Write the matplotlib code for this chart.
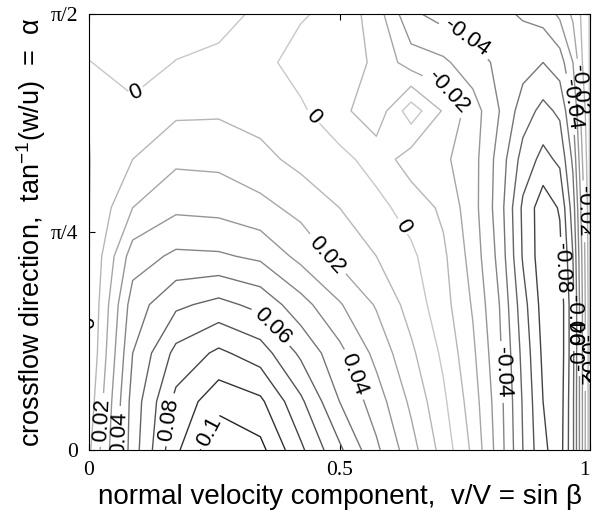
import numpy as np
import matplotlib
matplotlib.use('Agg')
import matplotlib.pyplot as plt

plt.rcParams['mathtext.fontset'] = 'custom'
plt.rcParams['mathtext.rm'] = 'Liberation Sans'
plt.rcParams['mathtext.it'] = 'Liberation Sans:italic'

# grid: beta every 5 deg (x = sin beta), alpha every 10 deg (rows 0..90)
beta_deg = np.arange(0, 91, 5)
alpha_deg = np.arange(0, 91, 10)

# one column of values per beta (alpha = 0, 10, ..., 90)
z_b00 = [0.008, 0.004, 0.0005, -0.0003, -0.0003, -0.0003, -0.0003, 0.0003, 0.0003, -0.005]
z_b05 = [0.055, 0.054, 0.050, 0.045, 0.035, 0.020, 0.010, 0.002, -0.004, -0.006]
z_b10 = [0.088, 0.083, 0.073, 0.058, 0.042, 0.028, 0.018, 0.008, 0.0003, -0.005]
z_b15 = [0.109, 0.0965, 0.082, 0.063, 0.0414, 0.027, 0.0174, 0.0085, 0.0024, -0.0036]
z_b20 = [0.103, 0.092, 0.075, 0.057, 0.038, 0.023, 0.013, 0.006, 0.003, 0.002]
z_b25 = [0.082, 0.072, 0.058, 0.044, 0.027, 0.017, 0.007, 0.0016, -0.004, 0.001]
z_b30 = [0.062, 0.050, 0.043, 0.031, 0.017, 0.010, 0.003, -0.007, -0.004, -0.003]
z_b35 = [0.042, 0.035, 0.027, 0.019, 0.010, 0.003, -0.004, -0.0166, -0.012, -0.015]
z_b40 = [0.024, 0.018, 0.012, 0.006, 0.002, -0.004, -0.015, 0.0056, -0.025, -0.038]
z_b45 = [0.006, 0.002, -0.002, -0.006, -0.008, -0.012, -0.018, -0.011, -0.028, -0.044]
z_b50 = [-0.012, -0.015, -0.018, -0.021, -0.024, -0.026, -0.026, -0.025, -0.036, -0.045]
z_b55 = [-0.035, -0.036, -0.038, -0.040, -0.043, -0.045, -0.044, -0.040, -0.042, -0.042]
z_b60 = [-0.060, -0.061, -0.063, -0.066, -0.071, -0.072, -0.064, -0.055, -0.046, -0.039]
z_b65 = [-0.078, -0.080, -0.082, -0.084, -0.086, -0.086, -0.073, -0.063, -0.050, -0.036]
z_b70 = [-0.085, -0.086, -0.087, -0.087, -0.083, -0.079, -0.068, -0.058, -0.045, -0.028]
z_b75 = [-0.062, -0.062, -0.063, -0.063, -0.060, -0.055, -0.048, -0.040, -0.030, -0.018]
z_b80 = [-0.030, -0.030, -0.030, -0.030, -0.028, -0.025, -0.020, -0.015, -0.010, -0.008]
z_b85 = [-0.010, -0.010, -0.010, -0.010, -0.009, -0.008, -0.006, -0.005, -0.004, -0.003]
z_b90 = [0.003, 0.003, 0.003, 0.003, 0.003, 0.003, 0.003, 0.003, 0.003, 0.003]

Z = np.array([z_b00, z_b05, z_b10, z_b15, z_b20, z_b25, z_b30, z_b35, z_b40, z_b45,
              z_b50, z_b55, z_b60, z_b65, z_b70, z_b75, z_b80, z_b85, z_b90]).T
x = np.sin(np.radians(beta_deg))
y = np.radians(alpha_deg)

levels = np.round(np.arange(-0.09, 0.1001, 0.01), 2) + 0.0

# labels: (level, x, y)
label_levels = [0, 0, -0.04, -0.02, 0, 0.02, 0.06, 0.04, -0.04, 0, 0.02, 0.04, 0.08, 0.1,
                -0.08, -0.06, -0.04, -0.02, 0, -0.04, -0.02, -0.02]
label_x = [0.094, 0.447, 0.754, 0.73, 0.647, 0.467, 0.351, 0.515, 0.824, 0.003, 0.032, 0.076, 0.166, 0.242,
           0.936, 0.964, 0.976, 0.986, 0.994, 0.975, 0.99, 0.988]
label_y = [1.286, 1.20, 1.488, 1.308, 0.829, 0.692, 0.425, 0.263, 0.281, 0.458, 0.108, 0.061, 0.108, 0.065,
           0.656, 0.468, 0.378, 0.324, 0.27, 1.25, 1.30, 0.86]

fig = plt.figure(figsize=(5.92, 5.18), dpi=100)
ax = fig.add_axes([89/592, 1-450/518, 501/592, 436/518])

cols = [str(np.clip(0.78 - 6.5*abs(l), 0, 1)) for l in levels]
cs = ax.contour(x, y, Z, levels=levels, colors=cols, linewidths=1.0)

ax.set_xlim(0, 1)
ax.set_ylim(0, np.pi/2)

cs.clabel(manual=[], fontsize=16, colors='k', fmt=lambda v: f'{v + 0.0:g}')
all_idx = list(range(len(levels)))
_orig_w = cs._get_nth_label_width
_cur = {'i': 0}
cs._get_nth_label_width = lambda nth: _orig_w(_cur['i'])
for lv, lx, ly in zip(label_levels, label_x, label_y):
    i = int(np.argmin(np.abs(levels - lv)))
    _cur['i'] = i
    cs.labelIndiceList = [i]
    try:
        cs.add_label_near(lx, ly, inline=True, inline_spacing=2)
    except Exception as e:
        print(e)
cs.labelIndiceList = all_idx
for t in cs.labelTexts:
    t.set_family('Liberation Sans')

ax.set_xticks([0, 0.5, 1])
ax.set_xticklabels(['0', '0.5', '1'])
ax.set_yticks([0, np.pi/4, np.pi/2])
ax.set_yticklabels(['0', 'π/4', 'π/2'])
ax.tick_params(direction='in', top=True, right=True, length=4, labelsize=15.5, pad=8)
for lab in ax.get_xticklabels() + ax.get_yticklabels():
    lab.set_family('Liberation Serif')
ax.get_xticklabels()[-1].set_horizontalalignment('right')

ax.set_xlabel('normal velocity component,  v/V = sin β', fontsize=20, family='Liberation Sans', labelpad=3)
ax.set_ylabel('crossflow direction,  tan$^{-1}$(w/u)  =  α', fontsize=19.5, family='Liberation Sans', labelpad=2)

fig.savefig('out.png', dpi=100)
